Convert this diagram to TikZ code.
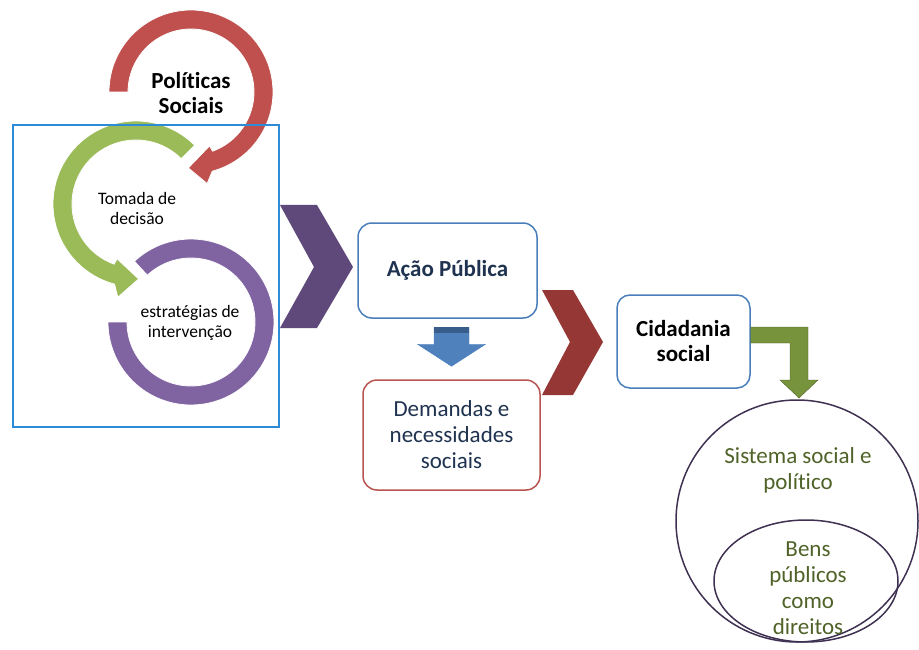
\documentclass[tikz,border=0pt]{standalone}
\usepackage{fontspec}
\setmainfont[Ligatures = NoCommon]{Carlito}
\usetikzlibrary{positioning}
\usetikzlibrary{calc}

\definecolor{arcred}{HTML}{C0504D}
\definecolor{arcgreen}{HTML}{9BBB59}
\definecolor{arcpurple}{HTML}{8064A2}
\definecolor{chevpurple}{HTML}{5F497A}
\definecolor{chevred}{HTML}{953735}
\definecolor{boxblue}{HTML}{4A7EBB}
\definecolor{boxred}{HTML}{B85450}
\definecolor{frameblue}{HTML}{2E8BD8}
\definecolor{arrowblue}{HTML}{4F81BD}
\definecolor{arrowbluedark}{HTML}{385D8A}
\definecolor{arrowgreen}{HTML}{77933C}
\definecolor{arrowgreendark}{HTML}{4F6228}
\definecolor{ringline}{HTML}{3F3151}
\definecolor{olivetext}{HTML}{4F6228}
\definecolor{navytext}{HTML}{1F3350}

\begin{document}
\begin{tikzpicture}[
      x = 1pt, y = 1pt,
      big/.style = { font = \fontsize{23}{26}\selectfont, align = center },
      bigbold/.style = { font = \fontsize{23}{25}\selectfont\bfseries, align = center },
      small/.style = { font = \fontsize{17.5}{20}\selectfont, align = center },
      ring/.style = { fill = #1, draw = white, line width = .8pt },
      stage/.style = {
        draw = boxblue, line width = 1.5pt, fill = white,
        rounded corners = 14pt
      },
    ]

    \useasboundingbox (0,0) rectangle (919,-650);

    % cycle of the three rings
    \path[ring = arcpurple, shift = {(191,-322)}]
      (133:83) arc[start angle = 133, end angle = -180, radius = 83]
      -- (180:64) arc[start angle = -180, end angle = 133, radius = 64] -- cycle;
    \path[ring = arcgreen, shift = {(136,-204)}]
      (45:83) arc[start angle = 45, end angle = 255, radius = 83]
      -- (259:95) -- (272:75) -- (251:58) -- (250:64)
      arc[start angle = 250, end angle = 45, radius = 64] -- cycle;
    \path[ring = arcred, shift = {(191,-92)}]
      (180:82) arc[start angle = 180, end angle = -75, radius = 82]
      -- (-80:93) -- (-92:76) -- (-71:57) -- (-70:63)
      arc[start angle = -70, end angle = 180, radius = 63] -- cycle;

    \node[bigbold] (politicas) at (191,-93) {Políticas\\Sociais};
    \node[small] (tomada) at (137,-208) {Tomada de\\decisão};
    \node[small] (estrategias) at (190,-323) {estratégias de\\intervenção};

    \draw[frameblue, line width = 2pt] (13,-125) rectangle (279,-427);

    % chevrons
    \fill[chevpurple] (280,-205) -- (317,-205) -- (353,-267)
      -- (317,-328) -- (280,-328) -- (314,-267) -- cycle;
    \fill[chevred] (542,-290) -- (573,-290) -- (603,-342)
      -- (573,-395) -- (542,-395) -- (570,-342) -- cycle;

    \node[stage, bigbold, text = navytext,
      minimum width = 179, minimum height = 95] (acao) at (447.5,-270.5) {Ação Pública};
    \node[stage, big, draw = boxred, text = navytext,
      minimum width = 177, minimum height = 110] (demandas) at (451.5,-435)
      {Demandas e\\necessidades\\sociais};
    \node[stage, bigbold, rounded corners = 13pt,
      minimum width = 133, minimum height = 93] (cidadania) at (683.5,-341.5)
      {Cidadania\\social};

    \begin{scope}[shift = {(demandas.north)}]
      \filldraw[fill = arrowblue, draw = boxblue]
        (-17.5,52) -- (17.5,52) -- (17.5,35) -- (34,35)
        -- (0,13) -- (-34,35) -- (-17.5,35) -- cycle;
      \fill[arrowbluedark] (-17.5,52) rectangle (17.5,46);
    \end{scope}

    \filldraw[fill = arrowgreen, draw = arrowgreendark]
      (cidadania.east |- 0,-327) -- (808,-327) -- (808,-380) -- (818,-380)
      -- (799,-398) -- (780,-380) -- (790,-380) -- (790,-343)
      -- (cidadania.east |- 0,-343) -- cycle;

    \node[circle, draw = ringline, line width = 1.5pt,
      minimum size = 242] (sistema) at (797,-521) {};
    \draw[ringline, line width = 1.5pt] (806,-581) ellipse [x radius = 92, y radius = 61];
    \node[big, text = olivetext] (sistematxt) at (798,-470) {Sistema social e\\político};
    \node[big, text = olivetext] (bens) at (808,-588) {Bens\\públicos\\como\\direitos};
  \end{tikzpicture}
\end{document}
